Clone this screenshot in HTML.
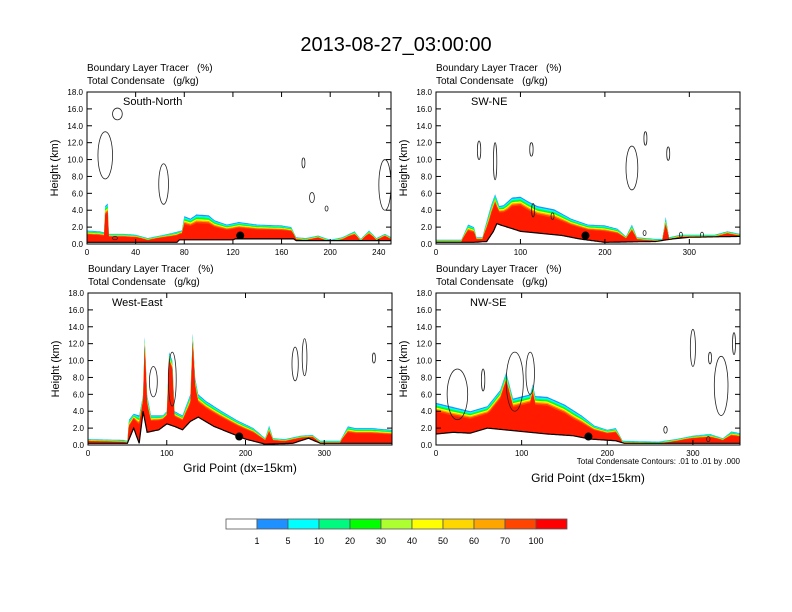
<!DOCTYPE html>
<html><head><meta charset="utf-8"><style>
html,body{margin:0;padding:0;background:#fff}
svg{display:block;font-family:"Liberation Sans",Arial,sans-serif}
text{white-space:pre}
</style></head><body>
<svg id="fig" width="792" height="612" viewBox="0 0 792 612" xmlns="http://www.w3.org/2000/svg">
<text x="396" y="51" font-size="20" text-anchor="middle">2013-08-27_03:00:00</text>
</svg>
<script>
// ---- data ----
const panelNames = ["South-North","SW-NE","West-East","NW-SE"];
const xMaxes = [250, 360, 386, 355];
const xTickSets = [[0,40,80,120,160,200,240],[0,100,200,300],[0,100,200,300],[0,100,200,300]];
const yTicks = [0,2,4,6,8,10,12,14,16,18];
// tracer top [grid, km]
const topSN = [[0,1.6],[10,1.5],[14,1.4],[15,4.5],[17,4.8],[18,1.2],[30,1.2],[40,1.1],[50,0.7],[60,1.0],[70,1.3],[78,1.6],[80,3.3],[85,3.0],[90,3.5],[100,3.4],[105,2.8],[115,2.3],[125,2.6],[140,2.3],[160,2.2],[168,2.0],[172,0.8],[180,0.7],[190,1.0],[200,0.5],[210,0.8],[220,1.5],[225,0.6],[232,1.6],[238,0.7],[245,1.2],[250,0.8]];
const gndSN = [[0,0.2],[74,0.2],[76,0.5],[120,0.5],[122,0.6],[170,0.6],[172,0.4],[250,0.4]];
const topSWNE = [[0,0.5],[30,0.5],[38,2.3],[45,2.0],[48,0.8],[55,0.8],[58,2.0],[65,4.5],[70,5.9],[75,4.5],[80,4.6],[90,5.5],[100,5.6],[110,5.0],[120,4.5],[140,4.1],[160,3.0],[180,2.3],[200,2.2],[215,1.8],[225,0.9],[232,2.3],[238,0.8],[260,0.6],[268,0.6],[272,3.2],[276,0.8],[290,1.1],[315,1.1],[330,1.1],[345,1.5],[360,1.2]];
const gndSWNE = [[0,0.2],[45,0.2],[60,0.3],[68,1.5],[72,2.4],[100,1.5],[120,1.3],[150,1.0],[170,0.6],[200,0.2],[260,0.3],[280,0.6],[300,0.8],[360,0.9]];
const topWE = [[0,0.7],[45,0.6],[50,0.5],[52,3.0],[58,3.7],[65,3.5],[70,6],[72,12.8],[75,6],[80,3.5],[95,3.5],[100,4.0],[103,11.0],[107,10.0],[110,4.0],[120,3.5],[130,6],[133,13.2],[136,8],[140,6],[150,5.2],[170,4.0],[190,2.9],[210,2.0],[225,0.8],[230,2.3],[235,0.8],[250,0.7],[270,1.1],[285,1.2],[295,0.5],[320,0.5],[330,2.2],[340,2.0],[360,2.0],[386,1.8]];
const gndWE = [[0,0.2],[50,0.2],[58,2],[65,0.2],[70,4],[75,1.5],[90,1.8],[100,2.5],[110,2.2],[120,1.8],[130,2.8],[140,3.3],[160,2.2],[200,0.7],[225,0.1],[260,0.2],[280,0.8],[295,0.2],[386,0.2]];
const topNWSE = [[0,5.0],[20,4.5],[40,4.0],[60,4.6],[75,6.5],[82,8.6],[90,5.5],[110,6.0],[113,7.2],[116,5.8],[130,5.7],[150,4.8],[170,3.5],[185,2.3],[200,1.8],[210,2.0],[218,0.5],[260,0.4],[280,0.7],[300,1.1],[320,1.3],[335,0.8],[345,1.6],[355,1.4]];
const gndNWSE = [[0,1.3],[20,1.5],[40,1.4],[60,2.0],[80,1.8],[100,1.6],[130,1.3],[160,1.1],[180,0.7],[210,0.5],[220,0.2],[355,0.2]];
// contours [cx, cy, rx, ry]
const contSN = [[25,15.4,4,0.7],[15,10.5,6,2.8],[63,7.1,4,2.4],[185,5.5,2,0.6],[197,4.2,1,0.3],[245,7,5,3],[178,9.6,0.6,0.6],[23,0.7,2,0.2]];
const contSWNE = [[51,11.1,2,1.1],[70,9.8,2,2.2],[113,11.2,2,0.8],[232,9,7,2.6],[248,12.5,1,0.8],[275,10.7,1,0.8],[115,4,1,0.8],[138,3.3,1,0.4],[247,1.3,1.5,0.3],[290,1.1,1.5,0.3],[315,1.1,1.5,0.3]];
const contWE = [[83,7.5,5,1.8],[107,7.8,5,3.2],[263,9.6,4,2],[275,10.4,3,2.2],[363,10.3,1,0.6]];
const contNWSE = [[25,6,12,3],[55,7.7,2,1.3],[92,7.5,10,3.5],[110,8.5,5,2.5],[300,11.5,3,2.2],[320,10.3,1,0.7],[333,7,8,3.5],[348,12,1.5,1.3],[268,1.8,2,0.4],[318,0.7,2,0.3]];
const markerX = [126,177,192,178];
const markerY = [1.0,1.0,1.0,1.0];
const levelLabels = ["1","5","10","20","30","40","50","60","70","100"];
const levelColors = ["#ffffff","#1e90ff","#00ffff","#00fa7f","#00ff00","#adff2f","#ffff00","#ffd700","#ffa500","#ff4500","#ff0000"];
const bandDepths = [0,0.15,0.3,0.42,0.55,0.7,0.85,1.05];
const bandColors = ["#1e90ff","#00ffff","#00fa7f","#00ff00","#ffff00","#ffa500","#ff4500","#ff1a00"];

const NS="http://www.w3.org/2000/svg";
const fig=document.getElementById('fig');
function mk(tag,attrs,parent){const e=document.createElementNS(NS,tag);for(const k in attrs)e.setAttribute(k,attrs[k]);(parent||fig).appendChild(e);return e;}
function txt(s,attrs,parent){const e=mk('text',attrs,parent);e.textContent=s;return e;}

const boxes=[{x0:87,x1:391,y0:92,y1:244},{x0:436,x1:740,y0:92,y1:244},{x0:88,x1:392,y0:293,y1:445},{x0:436,x1:740,y0:293,y1:445}];
const tops=[topSN,topSWNE,topWE,topNWSE];
const gnds=[gndSN,gndSWNE,gndWE,gndNWSE];
const conts=[contSN,contSWNE,contWE,contNWSE];

function interp(arr,x){for(let i=0;i<arr.length-1;i++){if(x>=arr[i][0]&&x<=arr[i+1][0]){const t=(x-arr[i][0])/((arr[i+1][0]-arr[i][0])||1);return arr[i][1]+t*(arr[i+1][1]-arr[i][1]);}}return arr[arr.length-1][1];}

for(let p=0;p<4;p++){
  const b=boxes[p];
  const g=mk('g',{});
  
  
  const sx=v=>b.x0+v/xMaxes[p]*(b.x1-b.x0);
  const sy=v=>b.y1-v/18*(b.y1-b.y0);
  const t1=txt('Boundary Layer Tracer   (%)',{x:b.x0,y:b.y0-21,'font-size':10},g);
  
  
  const t2=txt('Total Condensate   (g/kg)',{x:b.x0,y:b.y0-8,'font-size':10},g);
  
  
  const xs=[];const N=240;for(let i=0;i<=N;i++)xs.push(i/N*xMaxes[p]);
  tops[p].forEach(d=>xs.push(d[0]));gnds[p].forEach(d=>xs.push(d[0]));
  xs.sort((a,c)=>a-c);
  for(let k=0;k<bandDepths.length;k++){
    let up=[],dn=[];
    xs.forEach(x=>{const gr=interp(gnds[p],x);let tp=interp(tops[p],x);const d=tp-gr;const sc=d>3?1:Math.max(0.25,d/3);const h=Math.max(gr,tp-bandDepths[k]*sc);up.push(sx(x).toFixed(1)+','+sy(h).toFixed(1));dn.unshift(sx(x).toFixed(1)+','+sy(gr).toFixed(1));});
    const band=mk('polygon',{points:up.concat(dn).join(' '),fill:bandColors[k]},g);
    
    
  }
  let gp=xs.map(x=>sx(x).toFixed(1)+','+sy(interp(gnds[p],x)).toFixed(1));
  const under=mk('polygon',{points:gp.join(' ')+' '+b.x1+','+b.y1+' '+b.x0+','+b.y1,fill:'#fff'},g);
  
  
  const gl=mk('polyline',{points:gp.join(' '),fill:'none',stroke:'#000','stroke-width':1.2},g);
  
  
  conts[p].forEach(c=>{const e=mk('ellipse',{cx:sx(c[0]),cy:sy(c[1]),rx:Math.max(1.5,c[2]/xMaxes[p]*(b.x1-b.x0)),ry:c[3]/18*(b.y1-b.y0),fill:'none',stroke:'#222','stroke-width':0.8},g);
    
    });
  const m=mk('circle',{cx:sx(markerX[p]),cy:sy(markerY[p]),r:4,fill:'#000'},g);
  
  
  const fr=mk('rect',{x:b.x0,y:b.y0,width:b.x1-b.x0,height:b.y1-b.y0,fill:'none',stroke:'#000','stroke-width':1},g);
  
  
  yTicks.forEach(v=>{const y=sy(v);
    mk('line',{x1:b.x0,x2:b.x0+5,y1:y,y2:y,stroke:'#000'},g);
    mk('line',{x1:b.x1,x2:b.x1-5,y1:y,y2:y,stroke:'#000'},g);
    const l=txt(v.toFixed(1),{x:b.x0-4,y:y+3,'font-size':8,'text-anchor':'end'},g);
    
    });
  xTickSets[p].forEach(v=>{const x=sx(v);
    mk('line',{x1:x,x2:x,y1:b.y1,y2:b.y1-5,stroke:'#000'},g);
    mk('line',{x1:x,x2:x,y1:b.y0,y2:b.y0+5,stroke:'#000'},g);
    const l=txt(String(v),{x:x,y:b.y1+11,'font-size':8,'text-anchor':'middle'},g);
    
    });
  const yt=txt('Height (km)',{x:0,y:0,'font-size':11,'text-anchor':'middle',transform:'translate('+(b.x0-29)+','+((b.y0+b.y1)/2)+') rotate(-90)'},g);
  
  
  const pn=txt(panelNames[p],{x:b.x0+(p==0?36:p==2?24:p==1?35:34),y:b.y0+13,'font-size':11},g);
  
  
}
const bl=boxes[2];
const xa=txt('Grid Point (dx=15km)',{x:(bl.x0+bl.x1)/2,y:472,'font-size':12,'text-anchor':'middle'});


const xb=txt('Grid Point (dx=15km)',{x:(boxes[3].x0+boxes[3].x1)/2,y:482,'font-size':12,'text-anchor':'middle'});


const cn=txt('Total Condensate Contours: .01 to .01 by .000',{x:740,y:464,'font-size':8,'text-anchor':'end'});


const cbx=226,cbw=31,cby=519,cbh=10;
levelColors.forEach((c,i)=>{const r=mk('rect',{x:cbx+i*cbw,y:cby,width:cbw,height:cbh,fill:c,stroke:'#555','stroke-width':0.8});
  
  });
levelLabels.forEach((s,i)=>{const l=txt(s,{x:cbx+(i+1)*cbw,y:544,'font-size':9,'text-anchor':'middle'});
  
  });
</script>
</body></html>
